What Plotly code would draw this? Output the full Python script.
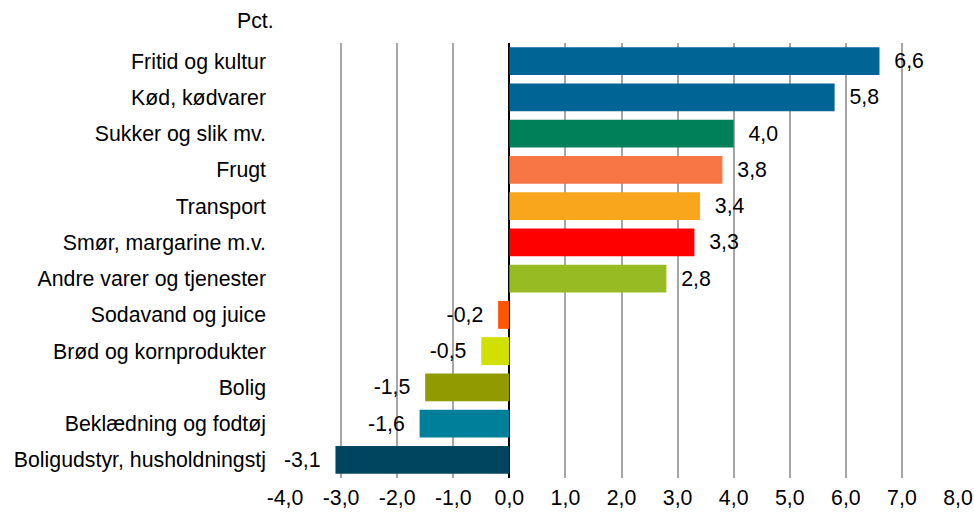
import plotly.graph_objects as go

categories = ["Fritid og kultur", "Kød, kødvarer", "Sukker og slik mv.", "Frugt", "Transport",
              "Smør, margarine m.v.", "Andre varer og tjenester", "Sodavand og juice",
              "Brød og kornprodukter", "Bolig", "Beklædning og fodtøj", "Boligudstyr, husholdningstj"]
values = [6.6, 5.8, 4.0, 3.8, 3.4, 3.3, 2.8, -0.2, -0.5, -1.5, -1.6, -3.1]
colors = ["#006494", "#006494", "#008058", "#F87545", "#F9A61C", "#FF0000", "#97BB22",
          "#FF5500", "#D0E000", "#919A00", "#007F9A", "#004560"]
tick_vals = [-4, -3, -2, -1, 0, 1, 2, 3, 4, 5, 6, 7, 8]
tick_text = [f"{v:.1f}".replace(".", ",") for v in tick_vals]

NB = "\u00a0\u00a0"
labels = []
for v in values:
    s = f"{v:.1f}".replace(".", ",")
    labels.append(NB + s if v >= 0 else s + NB)

FONT = "Liberation Sans, Arial, sans-serif"
FS = 21.3

fig = go.Figure(go.Bar(
    x=values, y=categories, orientation="h",
    marker=dict(color=colors, line=dict(width=0)),
    text=labels, textposition="outside", constraintext="none", cliponaxis=False,
    textfont=dict(family=FONT, size=FS, color="#000000"),
    hoverinfo="skip",
))

fig.update_layout(
    width=974, height=512,
    margin=dict(l=285, r=16, t=43, b=34, autoexpand=False),
    paper_bgcolor="white", plot_bgcolor="white",
    showlegend=False, bargap=0.23,
    font=dict(family=FONT, size=FS, color="#000000"),
    xaxis=dict(range=[-4, 8], tickvals=tick_vals, ticktext=tick_text, automargin=False,
               showgrid=True, gridcolor="#A6A6A6", gridwidth=2,
               zeroline=True, zerolinecolor="#000000", zerolinewidth=2,
               showline=False, ticks="", ticklabelstandoff=5, fixedrange=True,
               tickfont=dict(family=FONT, size=FS, color="#000000")),
    yaxis=dict(autorange="reversed", showgrid=False, zeroline=False, showline=False,
               automargin=False, ticks="", ticklabelstandoff=18, fixedrange=True,
               tickfont=dict(family=FONT, size=FS, color="#000000")),
    annotations=[dict(text="Pct.", xref="paper", yref="paper", x=0, y=1,
                      xanchor="right", yanchor="bottom", xshift=-9, yshift=8,
                      showarrow=False, font=dict(family=FONT, size=FS, color="#000000"))],
)

fig.write_html(
    "out.html",
    config={"displayModeBar": False},
    post_script="document.body.style.margin='0';document.documentElement.style.overflow='hidden';",
)
